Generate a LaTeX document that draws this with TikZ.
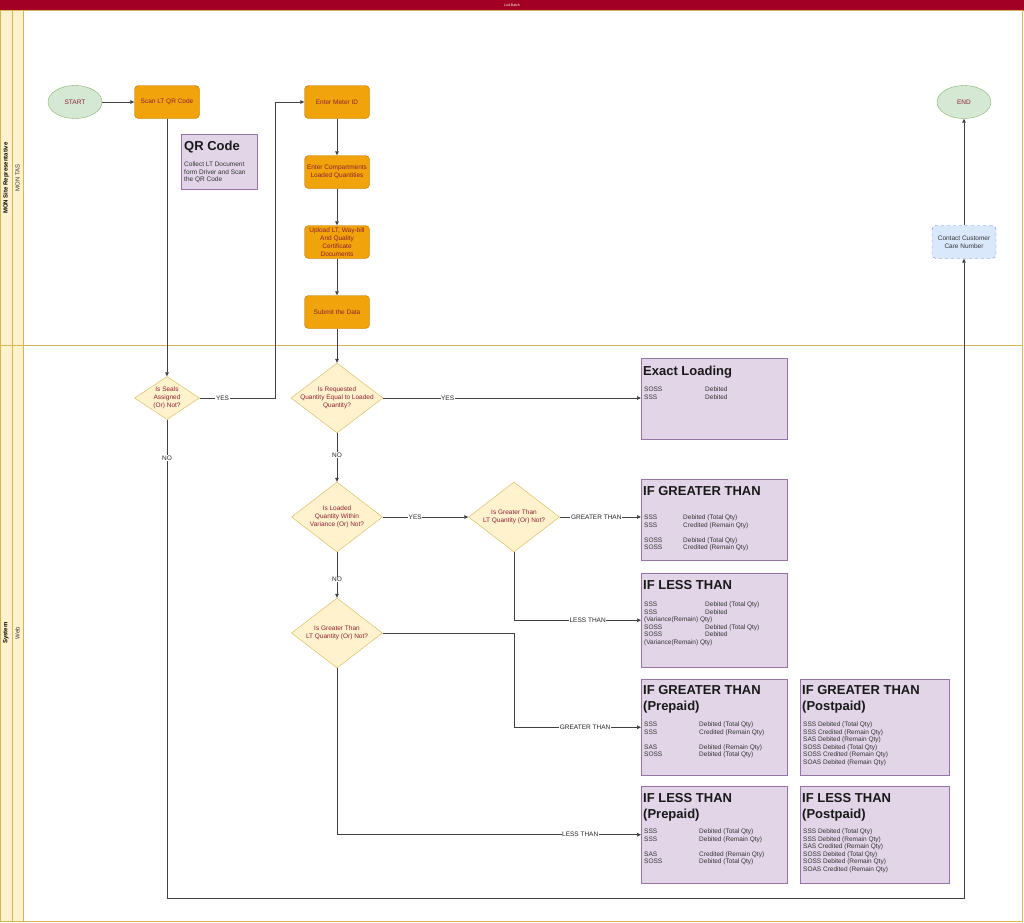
\documentclass[tikz,border=0pt]{standalone}
\usepackage{fontspec}
\setmainfont{Liberation Sans}
\usetikzlibrary{arrows.meta,shapes.geometric}
\definecolor{titlered}{HTML}{A20025}
\definecolor{laneFill}{HTML}{FFF2CC}
\definecolor{laneLine}{HTML}{D6B656}
\definecolor{orFill}{HTML}{F0A30A}
\definecolor{orLine}{HTML}{BD7000}
\definecolor{grFill}{HTML}{D5E8D4}
\definecolor{grLine}{HTML}{82B366}
\definecolor{puFill}{HTML}{E1D5E7}
\definecolor{puLine}{HTML}{9673A6}
\definecolor{blFill}{HTML}{DAE8FC}
\definecolor{blLine}{HTML}{6C8EBF}
\definecolor{txtRed}{HTML}{8F1F35}
\definecolor{edgeGray}{HTML}{404040}
\begin{document}
\begin{tikzpicture}[x=1pt,y=-1pt,
  small/.style={font=\fontsize{6.5}{7.8}\selectfont},
  proc/.style={small, rectangle, rounded corners=4pt, draw=orLine, fill=orFill, minimum width=65pt, minimum height=33pt, align=center, text=txtRed, inner sep=1pt},
  term/.style={small, ellipse, draw=grLine, fill=grFill, minimum width=54pt, minimum height=33pt, text=txtRed, inner sep=0pt},
  contactbox/.style={small, rectangle, rounded corners=4pt, draw=blLine, fill=blFill, dashed, minimum width=64pt, minimum height=33pt, align=center, text=black!80, inner sep=1pt},
  dec/.style={diamond, draw=laneLine, fill=laneFill, inner sep=0pt},
  dectext/.style={small, align=center, text=txtRed, inner sep=0pt},
  pbox/.style={rectangle, draw=puLine, fill=puFill, anchor=north west, inner sep=0pt},
  phead/.style={anchor=base west, inner sep=0pt, font=\bfseries\fontsize{13}{15}\selectfont, text=black!90},
  pbody/.style={anchor=north west, inner sep=0pt, font=\fontsize{6.5}{7.6}\selectfont, text=black!80, align=left},
  conn/.style={draw=edgeGray, line width=0.7pt, -{Triangle[length=4pt,width=3.6pt]}},
  lab/.style={fill=white, font=\fontsize{6.5}{7}\selectfont, text=black!85, inner sep=0.6pt}
]
\useasboundingbox (0,0) rectangle (1024,922);
% title bar
\fill[titlered] (0,0) rectangle (1024,10);
\draw[titlered!70!white, line width=0.6pt] (0,10) -- (1024,10);
\node[text=white, font=\fontsize{3.5}{4}\selectfont, inner sep=0pt] (title) at (512,5) {Lod Batch};
% lanes
\fill[laneFill] (0,10.5) rectangle (23,922);
\draw[laneLine, line width=0.6pt] (0.5,10.5) rectangle (1022,921.5);
\draw[laneLine, line width=0.6pt] (12,10.5) -- (12,921.5);
\draw[laneLine, line width=0.6pt] (23,10.5) -- (23,921.5);
\draw[laneLine, line width=0.6pt] (0.5,345) -- (1022,345);
\node[rotate=90, font=\bfseries\fontsize{6}{7}\selectfont, inner sep=0pt] (lane1) at (6,178) {MON Site Representative};
\node[rotate=90, font=\fontsize{6}{7}\selectfont, text=black!80, inner sep=0pt] (lane1b) at (17.5,178) {MON TAS};
\node[rotate=90, font=\bfseries\fontsize{6}{7}\selectfont, inner sep=0pt] (lane2) at (6,633) {System};
\node[rotate=90, font=\fontsize{6}{7}\selectfont, text=black!80, inner sep=0pt] (lane2b) at (17.5,633) {Web};

% flow nodes
\node[term] (start) at (75,102) {START};
\node[proc] (scan) at (167,102) {Scan LT QR Code};
\node[proc] (meter) at (337,102) {Enter Meter ID};
\node[proc] (comp) at (337,172) {Enter Compartments\\Loaded Quantities};
\node[proc] (upload) at (337,242) {Upload LT, Way-bill\\And Quality\\Certificate\\Documents};
\node[proc] (submit) at (337,312) {Submit the Data};
\node[term] (end) at (964,102) {END};
\node[contactbox] (contact) at (964,242) {Contact Customer\\Care Number};

% QR code note
\node[pbox, minimum width=76pt, minimum height=55pt] (qr) at (181,134) {};
\node[phead] (qrh) at (184,150) {QR Code};
\node[pbody] (qrb) at (184,161) {\begin{tabular}{@{}l@{}}Collect LT Document\\form Driver and Scan\\the QR Code\end{tabular}};

% decisions
\node[dec, minimum width=65pt, minimum height=43pt] (d1) at (167,398) {};
\node[dectext] (d1t) at (d1) {Is Seals\\Assigned\\(Or) Not?};
\node[dec, minimum width=92pt, minimum height=70pt] (d2) at (337,398) {};
\node[dectext] (d2t) at (d2) {Is Requested\\Quantity Equal to Loaded\\Quantity?};
\node[dec, minimum width=91pt, minimum height=70pt] (d3) at (337,517) {};
\node[dectext] (d3t) at (d3) {Is Loaded\\Quantity Within\\Variance (Or) Not?};
\node[dec, minimum width=91pt, minimum height=70pt] (d4) at (514,517) {};
\node[dectext] (d4t) at (d4) {Is Greater Than\\LT Quantity (Or) Not?};
\node[dec, minimum width=91pt, minimum height=70pt] (d5) at (337,633) {};
\node[dectext] (d5t) at (d5) {Is Greater Than\\LT Quantity (Or) Not?};

% result boxes
\node[pbox, minimum width=146pt, minimum height=81pt] (exact) at (641,358) {};
\node[phead] (exacth) at (643,375) {Exact Loading};
\node[pbody] (exactb) at (644,386) {\begin{tabular}{@{}p{61pt}@{}l@{}}SOSS & Debited\\SSS & Debited\end{tabular}};

\node[pbox, minimum width=146pt, minimum height=81pt] (gt) at (641,479) {};
\node[phead] (gth) at (643,495) {IF GREATER THAN};
\node[pbody] (gtb) at (644,514) {\begin{tabular}{@{}p{39pt}@{}l@{}}SSS & Debited (Total Qty)\\SSS & Credited (Remain Qty)\\ & \\SOSS & Debited (Total Qty)\\SOSS & Credited (Remain Qty)\end{tabular}};

\node[pbox, minimum width=146pt, minimum height=94pt] (lt) at (641,573) {};
\node[phead] (lth) at (643,589) {IF LESS THAN};
\node[pbody] (ltb) at (644,601) {\begin{tabular}{@{}p{61pt}@{}l@{}}SSS & Debited (Total Qty)\\SSS & Debited\\\multicolumn{2}{@{}l@{}}{(Variance(Remain) Qty)}\\SOSS & Debited (Total Qty)\\SOSS & Debited\\\multicolumn{2}{@{}l@{}}{(Variance(Remain) Qty)}\end{tabular}};

\node[pbox, minimum width=146pt, minimum height=96pt] (gtp) at (641,679) {};
\node[phead] (gtph1) at (643,694) {IF GREATER THAN};
\node[phead] (gtph2) at (643,710) {(Prepaid)};
\node[pbody] (gtpb) at (644,721) {\begin{tabular}{@{}p{55pt}@{}l@{}}SSS & Debited (Total Qty)\\SSS & Credited (Remain Qty)\\ & \\SAS & Debited (Remain Qty)\\SOSS & Debited (Total Qty)\end{tabular}};

\node[pbox, minimum width=149pt, minimum height=96pt] (gtq) at (800,679) {};
\node[phead] (gtqh1) at (802,694) {IF GREATER THAN};
\node[phead] (gtqh2) at (802,710) {(Postpaid)};
\node[pbody] (gtqb) at (803,721) {\begin{tabular}{@{}l@{}}SSS Debited (Total Qty)\\SSS Credited (Remain Qty)\\SAS Debited (Remain Qty)\\SOSS Debited (Total Qty)\\SOSS Credited (Remain Qty)\\SOAS Debited (Remain Qty)\end{tabular}};

\node[pbox, minimum width=146pt, minimum height=97pt] (ltp) at (641,786) {};
\node[phead] (ltph1) at (643,802) {IF LESS THAN};
\node[phead] (ltph2) at (643,818) {(Prepaid)};
\node[pbody] (ltpb) at (644,828) {\begin{tabular}{@{}p{55pt}@{}l@{}}SSS & Debited (Total Qty)\\SSS & Debited (Remain Qty)\\ & \\SAS & Credited (Remain Qty)\\SOSS & Debited (Total Qty)\end{tabular}};

\node[pbox, minimum width=149pt, minimum height=97pt] (ltq) at (800,786) {};
\node[phead] (ltqh1) at (802,802) {IF LESS THAN};
\node[phead] (ltqh2) at (802,818) {(Postpaid)};
\node[pbody] (ltqb) at (803,828) {\begin{tabular}{@{}l@{}}SSS Debited (Total Qty)\\SSS Debited (Remain Qty)\\SAS Credited (Remain Qty)\\SOSS Debited (Total Qty)\\SOSS Debited (Remain Qty)\\SOAS Credited (Remain Qty)\end{tabular}};

% connectors
\coordinate (nob) at (964,898);
\draw[conn] (start) -- (scan);
\draw[conn] (scan.south) -- (d1.north);
\draw[conn] (d1.east) -- node[lab, pos=0.3] {YES} ++(76,0) |- (meter.west);
\draw[conn] (meter) -- (comp);
\draw[conn] (comp) -- (upload);
\draw[conn] (upload) -- (submit);
\draw[conn] (submit) -- (d2.north);
\draw[conn] (d2.east) -- node[lab, pos=0.25] {YES} (exact.west |- d2.east);
\draw[conn] (d2.south) -- node[lab, pos=0.45] {NO} (d3.north);
\draw[conn] (d3.east) -- node[lab, pos=0.38] {YES} (d4.west);
\draw[conn] (d3.south) -- node[lab, pos=0.6] {NO} (d5.north);
\draw[conn] (d4.east) -- node[lab, pos=0.45] {GREATER THAN} (gt.west |- d4.east);
\draw[conn] (d4.south) |- node[lab, pos=0.79] {LESS THAN} (lt.west);
\draw[conn] (d5.east) -- (d5.east -| d4.south) |- node[lab, pos=0.78] {GREATER THAN} (gtp.west);
\draw[conn] (d5.south) |- node[lab, pos=0.9] {LESS THAN} (ltp.west);
\draw[conn] (d1.south) |- node[lab, pos=0.04] {NO} (nob) -- (contact.south);
\draw[conn] (contact.north) -- (end.south);
\end{tikzpicture}
\end{document}
